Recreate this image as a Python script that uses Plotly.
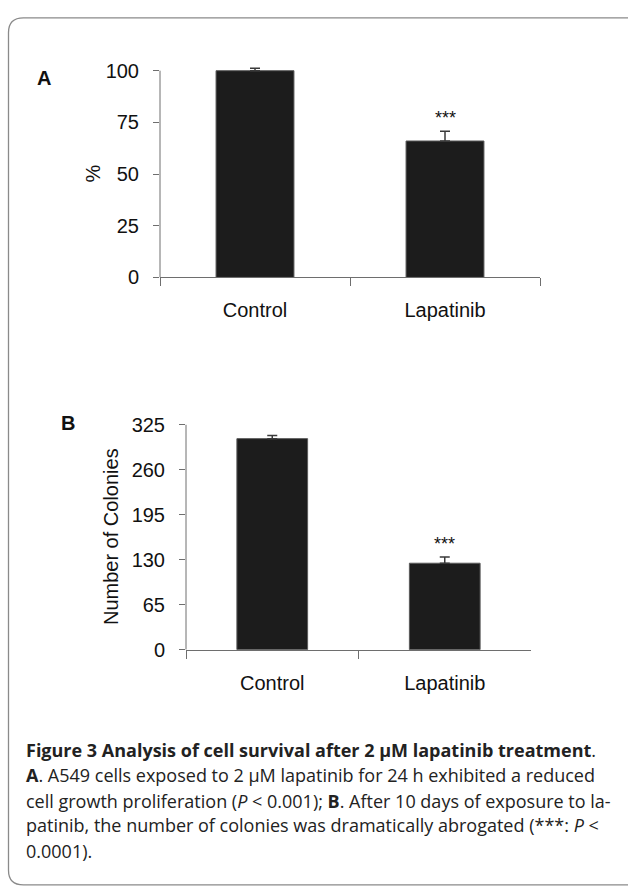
import plotly.graph_objects as go

W, H = 628, 889

# ---- data ----
categories = ["Control", "Lapatinib"]
survival_pct = [100, 66]
survival_err = [1.2, 4.7]
colonies = [305, 125]
colonies_err = [4.5, 9]
ticks_a = [0, 25, 50, 75, 100]
ticks_b = [0, 65, 130, 195, 260, 325]
sig_a = ["", "***"]
sig_b = ["", "***"]

caption_lines = [
    "<b>Figure 3 Analysis of cell survival after 2 µM lapatinib treatment</b>.",
    "<b>A</b>. A549 cells exposed to 2 µM lapatinib for 24 h exhibited a reduced",
    "cell growth proliferation (<i>P</i> < 0.001); <b>B</b>. After 10 days of exposure to la-",
    "patinib, the number of colonies was dramatically abrogated (***: <i>P</i> <",
    "0.0001).",
]

def px(x):
    return x / W

def py(y):
    return 1 - y / H

CHART_FONT = "Liberation Sans, Arial, sans-serif"
BAR_COLOR = "#1c1c1c"
AXIS_COLOR = "#6e6e6e"

fig = go.Figure()

fig.add_trace(go.Bar(
    x=categories, y=survival_pct, xaxis="x", yaxis="y",
    marker=dict(color=BAR_COLOR, line=dict(color="#5a5a5a", width=1)),
    error_y=dict(type="data", array=survival_err, arrayminus=[0, 0], symmetric=False,
                 color="#3a3a3a", thickness=1.5, width=5),
    showlegend=False, hoverinfo="skip",
))
fig.add_trace(go.Bar(
    x=categories, y=colonies, xaxis="x2", yaxis="y2",
    marker=dict(color=BAR_COLOR, line=dict(color="#5a5a5a", width=1)),
    error_y=dict(type="data", array=colonies_err, arrayminus=[0, 0], symmetric=False,
                 color="#3a3a3a", thickness=1.5, width=5),
    showlegend=False, hoverinfo="skip",
))

xcommon = dict(
    type="category", range=[-0.5, 1.5], showline=True, linecolor=AXIS_COLOR, linewidth=1,
    ticks="outside", tickson="boundaries", ticklen=8, tickcolor=AXIS_COLOR,
    tickfont=dict(family=CHART_FONT, size=20, color="#111"), showgrid=False,
    ticklabelstandoff=15, zeroline=False,
)
ycommon = dict(
    showline=False, ticks="outside", ticklen=6, tickcolor=AXIS_COLOR,
    tickfont=dict(family=CHART_FONT, size=20, color="#111"), showgrid=False,
    zeroline=False, ticklabelstandoff=10,
)

fig.update_layout(
    width=W, height=H, margin=dict(l=0, r=0, t=0, b=0),
    paper_bgcolor="white", plot_bgcolor="white",
    bargap=0.59,
    xaxis=dict(xcommon, domain=[px(160), px(540)], anchor="y"),
    yaxis=dict(ycommon, domain=[py(276), py(60.8)], range=[0, 102], tickvals=ticks_a, anchor="x"),
    xaxis2=dict(xcommon, domain=[px(186), px(531)], anchor="y2"),
    yaxis2=dict(ycommon, domain=[py(656), py(422.9)], range=[0, 330], tickvals=ticks_b, anchor="x2"),
)

shapes = []
# y axis lines (up to the top tick)
shapes.append(dict(type="line", xref="x domain", yref="y", x0=0, x1=0, y0=0, y1=ticks_a[-1],
                   line=dict(color=AXIS_COLOR, width=1)))
shapes.append(dict(type="line", xref="x2 domain", yref="y2", x0=0, x1=0, y0=0, y1=ticks_b[-1],
                   line=dict(color=AXIS_COLOR, width=1)))

# rounded border frame (open to the right, as in the cropped original)
l, t, r, b = px(8.5), py(11), px(660), py(896)
rx, ry = 15 / W, 15 / H
path = (f"M {r},{b} L {l + rx},{b} Q {l},{b} {l},{b + ry} "
        f"L {l},{t - ry} Q {l},{t} {l + rx},{t} L {r},{t}")
shapes.append(dict(type="path", xref="paper", yref="paper", path=path,
                   line=dict(color="#8a8a8a", width=1.3)))
fig.update_layout(shapes=shapes)

def lab(text, x, y, angle=0, size=20):
    return dict(text=text, x=px(x), y=py(y), xref="paper", yref="paper", showarrow=False,
                xanchor="center", yanchor="middle", textangle=angle,
                font=dict(family=CHART_FONT, size=size, color="#111"))

ann = [
    lab("<b>A</b>", 44, 72),
    lab("<b>B</b>", 68, 425),
    lab("%", 93, 170, angle=-90),
    lab("Number of Colonies", 111, 540, angle=-90),
]

for cat, v, e, s in zip(categories, survival_pct, survival_err, sig_a):
    if s:
        ann.append(dict(text=s, x=cat, y=v + e, xref="x", yref="y", showarrow=False,
                        xanchor="center", yanchor="bottom", yshift=1,
                        font=dict(family=CHART_FONT, size=18, color="#111")))
for cat, v, e, s in zip(categories, colonies, colonies_err, sig_b):
    if s:
        ann.append(dict(text=s, x=cat, y=v + e, xref="x2", yref="y2", showarrow=False,
                        xanchor="center", yanchor="bottom", yshift=1,
                        font=dict(family=CHART_FONT, size=18, color="#111")))

cap_y = [758, 784, 810, 835, 861]
for line, yy in zip(caption_lines, cap_y):
    ann.append(dict(text=line, x=px(24), y=py(yy), xref="paper", yref="paper", showarrow=False,
                    xanchor="left", yanchor="middle",
                    font=dict(family="Open Sans, sans-serif", size=18, color="#222")))

fig.update_layout(annotations=ann)
fig.write_html("out.html", post_script="document.body.style.margin='0px';",
               config={"displayModeBar": False})
